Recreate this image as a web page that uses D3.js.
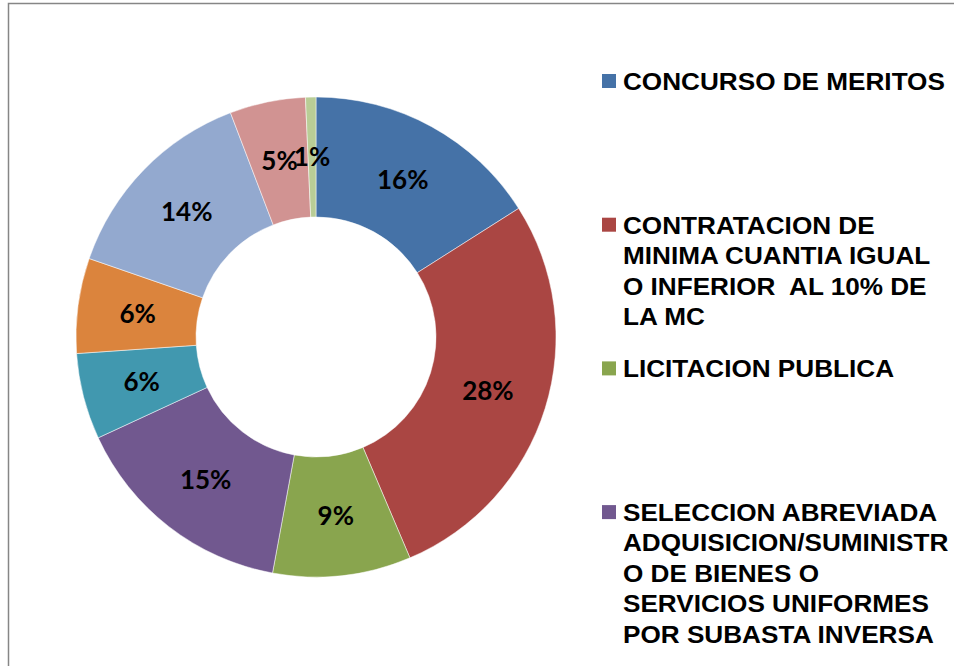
<!DOCTYPE html>
<html>
<head>
<meta charset="utf-8">
<script src="https://cdn.jsdelivr.net/npm/d3@7"></script>
<style>
  body { margin: 0; background: #fff; }
  svg { display: block; }
  .lbl { font-family: Lato, "Open Sans", sans-serif; font-weight: bold; font-size: 26px; fill: #000; }
  .leg { font-family: "Liberation Sans", Arial, sans-serif; font-weight: bold; font-size: 24.5px; fill: #000; white-space: pre; }
</style>
</head>
<body>
<svg id="chart" width="954" height="666"></svg>
<script>
// slice values in percent, clockwise from 12 o'clock
const values = [16, 27.6, 9.3, 15.2, 5.8, 6.4, 13.9, 5.1, 0.7]
const colors = ['#4572A7', '#AA4643', '#89A54E', '#71588F', '#4198AF', '#DB843D', '#93A9CF', '#D19392', '#B9CD96']
// legend entries that fit in the picture (the rest are clipped), already wrapped
const legendLines = [
  ['CONCURSO DE MERITOS'],
  ['CONTRATACION DE', 'MINIMA CUANTIA IGUAL', 'O INFERIOR  AL 10% DE', 'LA MC'],
  ['LICITACION PUBLICA'],
  ['SELECCION ABREVIADA', 'ADQUISICION/SUMINISTR', 'O DE BIENES O', 'SERVICIOS UNIFORMES', 'POR SUBASTA INVERSA'],
]

const svg = d3.select('#chart')
const cx = 316, cy = 337
const outerR = 240, innerR = 120

// chart area border (only top and left edges visible)
svg.append('rect')
  .attr('x', 8.5).attr('y', 3.5)
  .attr('width', 1200).attr('height', 900)
  .attr('fill', 'none')
  .attr('stroke', '#868686')
  .attr('stroke-width', 1.5)

const pie = d3.pie().sort(null).value((d) => d)
const arc = d3.arc().innerRadius(innerR).outerRadius(outerR)
const arcs = pie(values)

const g = svg.append('g').attr('transform', `translate(${cx},${cy})`)

g.selectAll('path')
  .data(arcs)
  .join('path')
  .attr('d', arc)
  .attr('fill', (d, i) => colors[i])
  .attr('stroke', '#fff')
  .attr('stroke-width', 0.5)

const total = d3.sum(values)
g.selectAll('text')
  .data(arcs)
  .join('text')
  .attr('class', 'lbl')
  .attr('transform', (d) => `translate(${arc.centroid(d)})`)
  .attr('text-anchor', 'middle')
  .attr('dy', '0.36em')
  .text((d) => Math.round((d.data / total) * 100) + '%')

// legend
const legX = 602, legY0 = 81, legStep = 143.7, lineH = 30.5
const leg = svg.append('g')
legendLines.forEach((lines, i) => {
  const y = legY0 + i * legStep
  leg.append('rect')
    .attr('x', legX).attr('y', y - 7)
    .attr('width', 14).attr('height', 14)
    .attr('fill', colors[i])
  // text is slightly wider in the reference, so stretch it a little
  const t = leg.append('text')
    .attr('class', 'leg')
    .attr('transform', `translate(${legX + 21},${y}) scale(1.067,1)`)
  lines.forEach((ln, j) => {
    t.append('tspan')
      .attr('x', 0)
      .attr('y', j * lineH)
      .attr('dy', '0.36em')
      .text(ln)
  })
})
</script>
</body>
</html>
